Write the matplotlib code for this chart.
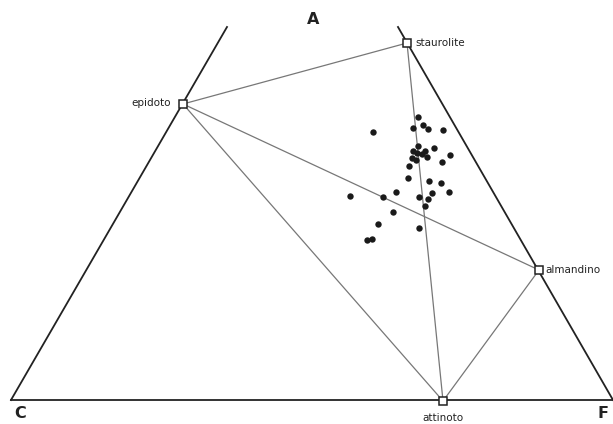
import matplotlib
matplotlib.use('Agg')
import matplotlib.pyplot as plt

# vertici del triangolo (troncato in alto), coordinate immagine
edge_left_x = [11, 227]
edge_left_y = [400, 27]
edge_right_x = [398, 613]
edge_right_y = [27, 400]
base_x = [11, 613]
base_y = [400, 400]

# minerali
min_names = ['epidoto', 'staurolite', 'almandino', 'attinoto']
min_x = [183, 407, 539, 443]
min_y = [104, 43, 270, 401]

# collegamenti tra minerali (indici)
ties = [(0, 1), (0, 2), (0, 3), (1, 3), (2, 3)]

# campioni
pts_x = [418.3, 372.7, 412.7, 423.3, 428.3, 443.3, 418.3, 412.7, 425, 434,
         417.3, 421.7, 427.3, 411.7, 416, 450, 442.3, 408.7, 408, 429.3,
         441, 350, 396, 383.3, 431.7, 418.7, 428.3, 448.7, 425.3, 393.3,
         377.7, 418.7, 367.3, 372]
pts_y = [117.3, 132.3, 128, 125.3, 128.7, 129.7, 145.7, 150.7, 150.7, 147.7,
         153.3, 154.3, 156.7, 158.3, 160, 155, 161.7, 166.3, 178, 180.7,
         183, 195.7, 192, 197.3, 193, 196.7, 199, 191.7, 205.7, 212,
         224, 228, 240, 239]

fig = plt.figure(figsize=(6.13, 4.24), dpi=100)
ax = fig.add_axes([0, 0, 1, 1])
ax.set_xlim(0, 613)
ax.set_ylim(424, 0)
ax.axis('off')

for a, b in ties:
    ax.plot([min_x[a], min_x[b]], [min_y[a], min_y[b]], color='#777777', lw=0.9, zorder=1)

ax.plot(edge_left_x, edge_left_y, color='#222222', lw=1.3, zorder=2)
ax.plot(edge_right_x, edge_right_y, color='#222222', lw=1.3, zorder=2)
ax.plot(base_x, base_y, color='#222222', lw=1.3, zorder=2)

ax.plot(pts_x, pts_y, 'o', color='#1a1a1a', ms=4.6, mew=0, zorder=3)
ax.plot(min_x, min_y, 's', mfc='white', mec='#222222', ms=6, mew=1.1, zorder=4)

fs = 7.5
ax.text(min_x[0] - 12, min_y[0] - 1, 'epidoto', ha='right', va='center', fontsize=fs, color='#222222')
ax.text(min_x[1] + 8, min_y[1], 'staurolite', ha='left', va='center', fontsize=fs, color='#222222')
ax.text(min_x[2] + 6, min_y[2], 'almandino', ha='left', va='center', fontsize=fs, color='#222222')
ax.text(min_x[3], min_y[3] + 17, 'attinoto', ha='center', va='center', fontsize=fs, color='#222222')

ax.text(313, 20, 'A', ha='center', va='center', fontsize=11.5, fontweight='semibold', color='#222222')
ax.text(20, 413, 'C', ha='center', va='center', fontsize=11.5, fontweight='semibold', color='#222222')
ax.text(603, 413, 'F', ha='center', va='center', fontsize=11.5, fontweight='semibold', color='#222222')

fig.savefig('out.png', dpi=100)
